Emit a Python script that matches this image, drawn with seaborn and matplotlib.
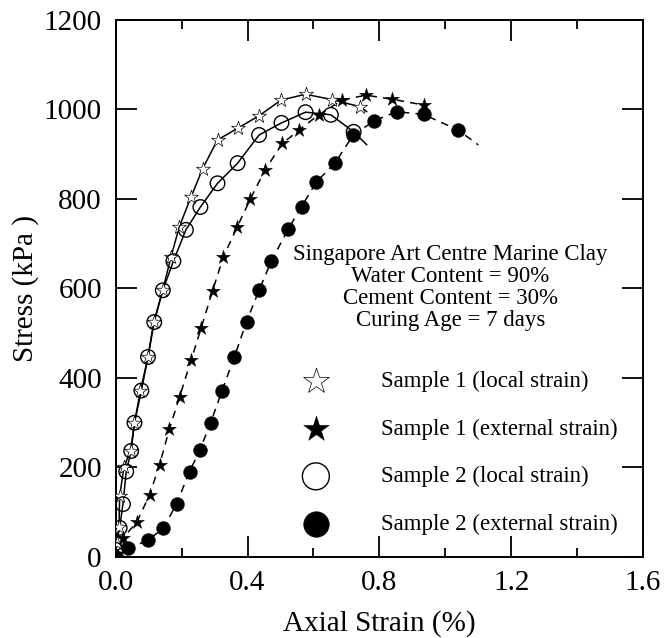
import matplotlib
matplotlib.use("Agg")
import matplotlib.pyplot as plt
import numpy as np
import pandas as pd
import seaborn as sns

# Sample 1, local strain (open stars)
s1_local_strain = [0.0, 0.003, 0.010, 0.012, 0.025, 0.045, 0.057, 0.075, 0.098, 0.115,
                   0.143, 0.168, 0.193, 0.229, 0.264, 0.309, 0.370, 0.435, 0.502, 0.576,
                   0.657, 0.742]
s1_local_stress = [0, 30, 65, 135, 200, 236, 299, 370, 446, 523,
                   596, 670, 737, 804, 867, 931, 957, 985, 1020, 1033,
                   1021, 1005]
s1_local_tail = ([0.742, 0.762], [1005, 994])

# Sample 1, external strain (filled stars)
s1_ext_strain = [0.0, 0.022, 0.064, 0.103, 0.133, 0.163, 0.194, 0.229, 0.259, 0.294,
                 0.327, 0.369, 0.408, 0.453, 0.506, 0.556, 0.616, 0.687, 0.759, 0.838,
                 0.934]
s1_ext_stress = [0, 41, 77, 138, 205, 285, 357, 439, 510, 594,
                 670, 737, 798, 864, 923, 953, 987, 1020, 1031, 1022,
                 1009]

# Sample 2, local strain (open circles)
s2_local_strain = [0.0, 0.002, 0.012, 0.022, 0.032, 0.047, 0.057, 0.078, 0.098, 0.117,
                   0.143, 0.175, 0.213, 0.257, 0.309, 0.370, 0.435, 0.503, 0.576, 0.653,
                   0.722]
s2_local_stress = [15, 31, 64, 117, 190, 236, 299, 371, 446, 524,
                   595, 660, 730, 781, 834, 879, 942, 969, 993, 987,
                   949]
s2_local_tail = ([0.722, 0.762], [949, 920])

# Sample 2, external strain (filled circles)
s2_ext_strain = [0.0, 0.037, 0.098, 0.145, 0.185, 0.224, 0.255, 0.288, 0.323, 0.360,
                 0.397, 0.435, 0.472, 0.523, 0.564, 0.609, 0.666, 0.720, 0.785, 0.853,
                 0.934, 1.039]
s2_ext_stress = [0, 18, 36, 64, 118, 190, 237, 299, 371, 446,
                 525, 595, 660, 731, 782, 837, 880, 941, 974, 994,
                 988, 953]
s2_ext_tail = ([1.039, 1.100], [953, 920])

legend_labels = ["Sample 1 (local strain)", "Sample 1 (external strain)",
                 "Sample 2 (local strain)", "Sample 2 (external strain)"]
info_lines = ["Singapore Art Centre Marine Clay", "Water Content = 90%",
              "Cement Content = 30%", "Curing Age = 7 days"]
x_ticks = [0.0, 0.4, 0.8, 1.2, 1.6]
y_ticks = [0, 200, 400, 600, 800, 1000, 1200]

sns.set_style("ticks")
plt.rcParams["font.family"] = ["Liberation Serif", "DejaVu Serif"]
plt.rcParams["text.color"] = "black"
plt.rcParams["axes.labelcolor"] = "black"

fig = plt.figure(figsize=(6.66, 6.38), dpi=100)
ax = fig.add_axes([0.1737, 0.1277, 0.7918, 0.8417])

lw = 1.1
dash = (0, (5, 4))

# connecting curves
sns.lineplot(x=s1_local_strain + s1_local_tail[0][1:], y=s1_local_stress + s1_local_tail[1][1:],
             sort=False, estimator=None, color="black", lw=lw, ax=ax)
sns.lineplot(x=s2_local_strain + s2_local_tail[0][1:], y=s2_local_stress + s2_local_tail[1][1:],
             sort=False, estimator=None, color="black", lw=lw, ax=ax)
sns.lineplot(x=s1_ext_strain, y=s1_ext_stress, sort=False, estimator=None,
             color="black", lw=lw, linestyle=dash, ax=ax)
sns.lineplot(x=s2_ext_strain + s2_ext_tail[0][1:], y=s2_ext_stress + s2_ext_tail[1][1:],
             sort=False, estimator=None, color="black", lw=lw, linestyle=dash, ax=ax)

# data markers
sns.scatterplot(x=s1_local_strain, y=s1_local_stress, marker="*", s=110,
                facecolor="white", edgecolor="black", linewidth=0.5, zorder=4,
                label=legend_labels[0], ax=ax)
sns.scatterplot(x=s1_ext_strain, y=s1_ext_stress, marker="*", s=110,
                color="black", edgecolor="black", linewidth=0.3, zorder=5,
                label=legend_labels[1], ax=ax)
sns.scatterplot(x=s2_local_strain, y=s2_local_stress, marker="o", s=110,
                facecolor="none", edgecolor="black", linewidth=1.0, zorder=4,
                label=legend_labels[2], ax=ax)
sns.scatterplot(x=s2_ext_strain, y=s2_ext_stress, marker="o", s=100,
                color="black", edgecolor="black", linewidth=0.3, zorder=5,
                label=legend_labels[3], ax=ax)

ax.set_xlim(0, 1.6)
ax.set_ylim(0, 1200)
ax.set_xticks(x_ticks)
ax.set_xticklabels([f"{v:.1f}" for v in x_ticks])
ax.set_xticks(np.arange(0.2, 1.6, 0.4), minor=True)
ax.set_yticks(y_ticks)
ax.set_yticklabels([str(v) for v in y_ticks])

for sp in ax.spines.values():
    sp.set_visible(True)
    sp.set_linewidth(1.4)
    sp.set_color("black")

ax.tick_params(axis="both", which="major", direction="in", length=15, width=1.3,
               top=True, right=True, labelsize=21, pad=10, colors="black")
ax.tick_params(axis="both", which="minor", direction="in", length=6.5, width=1.3,
               top=True, right=True, colors="black")

ax.set_xlabel("Axial Strain (%)", fontsize=21, color="black")
ax.set_ylabel("Stress (kPa )", fontsize=21, color="black")
ax.xaxis.set_label_coords(0.5, -0.10)
ax.yaxis.set_label_coords(-0.145, 0.5)

ax.text(1.015, 601, "\n".join(info_lines), ha="center", va="center",
        fontsize=16.5, linespacing=1.08, color="black")

handles, labels = ax.get_legend_handles_labels()
leg = ax.legend(handles, labels, loc="center left", bbox_to_anchor=(0.347, 0.193),
                frameon=False, fontsize=16.5, markerscale=1.85, handlelength=1.5,
                handletextpad=2.1, labelspacing=1.16, borderpad=0, borderaxespad=0)
for t in leg.get_texts():
    t.set_color("black")

fig.savefig("out.png", dpi=100)
